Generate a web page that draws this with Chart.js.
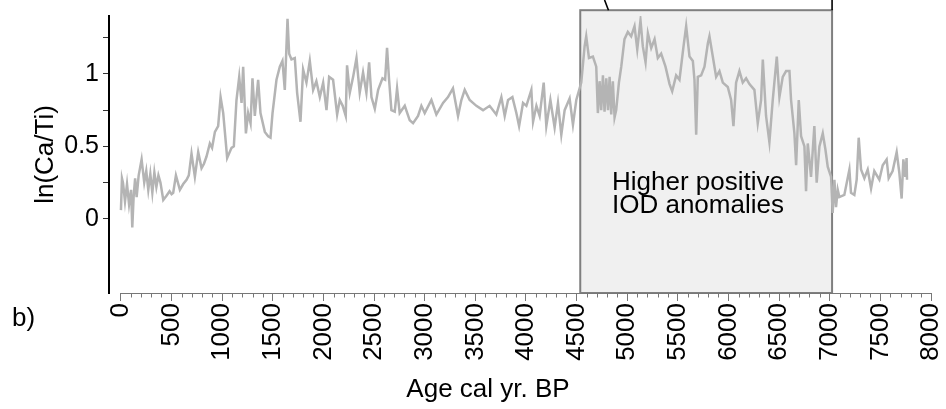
<!DOCTYPE html>
<html>
<head>
<meta charset="utf-8">
<script src="https://cdn.jsdelivr.net/npm/chart.js@4.4.0/dist/chart.umd.min.js"></script>
<style>
html, body { margin: 0; padding: 0; background: #fff; }
#wrap { width: 946px; height: 409px; }
</style>
</head>
<body>
<div id="wrap"><canvas id="myChart" width="946" height="409"></canvas></div>
<script>
// Age (cal yr BP) and ln(Ca/Ti)
const ages = [0, 10, 20, 40, 60, 80, 100, 112, 125, 140, 155, 175, 204, 230, 250, 270, 290, 310, 330, 350,
  370, 390, 418, 450, 480, 500, 516, 543, 582, 615, 648, 670, 697, 730, 763, 796, 820, 845, 878, 900,
  928, 960, 984, 1010, 1049, 1092, 1115, 1141, 1168, 1191, 1207, 1234, 1256, 1280, 1299, 1322, 1355, 1378, 1421, 1454,
  1477, 1497, 1536, 1569, 1595, 1618, 1645, 1661, 1684, 1717, 1740, 1773, 1799, 1832, 1865, 1898, 1930, 1964, 1997, 2030,
  2056, 2095, 2135, 2161, 2190, 2220, 2233, 2260, 2293, 2326, 2358, 2391, 2424, 2451, 2474, 2507, 2540, 2583, 2609, 2628,
  2648, 2671, 2704, 2727, 2753, 2803, 2852, 2885, 2934, 2967, 3000, 3066, 3115, 3181, 3230, 3279, 3329, 3362, 3395, 3444,
  3510, 3576, 3641, 3707, 3757, 3790, 3823, 3866, 3905, 3932, 3971, 4004, 4053, 4070, 4103, 4135, 4175, 4201, 4241, 4283,
  4316, 4349, 4382, 4431, 4464, 4497, 4546, 4579, 4595, 4622, 4661, 4694, 4710, 4727, 4743, 4760, 4776, 4793, 4810, 4826,
  4842, 4858, 4875, 4891, 4918, 4941, 4973, 5006, 5039, 5072, 5099, 5131, 5154, 5181, 5204, 5237, 5270, 5302, 5335, 5378,
  5418, 5444, 5483, 5516, 5556, 5582, 5615, 5648, 5664, 5681, 5697, 5730, 5763, 5796, 5812, 5845, 5878, 5911, 5944, 5993,
  6026, 6049, 6075, 6108, 6141, 6174, 6207, 6256, 6289, 6322, 6339, 6371, 6404, 6437, 6477, 6503, 6536, 6569, 6602, 6618,
  6651, 6668, 6694, 6717, 6750, 6766, 6783, 6815, 6848, 6871, 6898, 6931, 6957, 6980, 7013, 7029, 7046, 7062, 7079, 7095,
  7144, 7194, 7210, 7243, 7266, 7286, 7309, 7342, 7375, 7408, 7440, 7490, 7523, 7562, 7582, 7621, 7661, 7687, 7710, 7727,
  7746, 7759, 7763];
const lnCaTi = [0.06, 0.28, 0.25, 0.12, 0.24, 0.10, 0.20, -0.06, 0.15, 0.28, 0.15, 0.30, 0.41, 0.25, 0.33, 0.20, 0.31, 0.18, 0.32, 0.22,
  0.30, 0.25, 0.13, 0.16, 0.19, 0.17, 0.18, 0.30, 0.20, 0.24, 0.27, 0.30, 0.45, 0.29, 0.46, 0.35, 0.38, 0.43, 0.52, 0.49,
  0.60, 0.64, 0.84, 0.73, 0.42, 0.49, 0.50, 0.82, 0.98, 0.80, 1.05, 0.59, 0.73, 0.66, 0.97, 0.71, 0.96, 0.73, 0.60, 0.57,
  0.56, 0.73, 0.96, 1.05, 1.09, 0.89, 1.38, 1.14, 1.10, 1.11, 0.87, 0.67, 1.03, 0.94, 1.09, 0.89, 0.95, 0.84, 0.94, 0.75,
  0.98, 0.96, 0.72, 0.82, 0.78, 0.71, 1.06, 0.87, 0.98, 1.11, 0.87, 1.01, 0.87, 1.08, 0.84, 0.76, 0.89, 0.97, 0.96, 1.18,
  0.96, 0.75, 0.74, 0.90, 0.73, 0.78, 0.68, 0.66, 0.71, 0.78, 0.73, 0.82, 0.72, 0.80, 0.84, 0.90, 0.71, 0.82, 0.89, 0.82,
  0.78, 0.75, 0.78, 0.72, 0.84, 0.71, 0.82, 0.84, 0.73, 0.64, 0.80, 0.78, 0.89, 0.67, 0.78, 0.71, 0.94, 0.64, 0.82, 0.63,
  0.80, 0.58, 0.75, 0.83, 0.65, 0.82, 0.94, 1.19, 1.26, 1.11, 1.12, 1.05, 0.73, 0.95, 0.75, 0.99, 0.74, 0.97, 0.75, 0.98,
  0.72, 0.95, 0.70, 0.75, 0.94, 1.05, 1.24, 1.29, 1.26, 1.33, 1.17, 1.37, 1.19, 1.08, 1.28, 1.18, 1.24, 1.11, 1.14, 1.05,
  0.93, 0.88, 0.99, 0.96, 1.19, 1.33, 1.12, 1.09, 0.96, 0.58, 0.98, 0.99, 1.05, 1.21, 1.26, 1.12, 0.98, 1.02, 0.94, 0.91,
  0.82, 0.64, 0.94, 1.02, 0.94, 0.97, 0.93, 0.89, 0.66, 0.82, 1.10, 0.71, 0.53, 0.82, 1.12, 0.84, 0.98, 1.02, 1.02, 0.82,
  0.59, 0.37, 0.82, 0.57, 0.50, 0.19, 0.52, 0.29, 0.64, 0.25, 0.50, 0.59, 0.48, 0.36, 0.29, 0.04, 0.27, 0.08, 0.20, 0.15,
  0.165, 0.34, 0.18, 0.165, 0.27, 0.56, 0.34, 0.28, 0.34, 0.21, 0.33, 0.27, 0.37, 0.41, 0.28, 0.33, 0.46, 0.32, 0.14, 0.41,
  0.29, 0.42, 0.27];

const xTickValues = [0, 500, 1000, 1500, 2000, 2500, 3000, 3500, 4000, 4500, 5000, 5500, 6000, 6500, 7000, 7500, 8000];
const yTickValues = [0, 0.25, 0.5, 0.75, 1, 1.25];
const yTickLabels = ['0', '', '0.5', '', '1', ''];

// shaded interval and its label
const iodRange = [4536, 7023];
const iodTop = 1.44;
const iodLabel = ['Higher positive', 'IOD anomalies'];
// connector lines to the panel above (age at box top, age at image top)
const connectors = [[4815, 4776], [7023, 7023]];

const FONT = "'Liberation Sans', Arial, sans-serif";
Chart.defaults.font.family = FONT;
Chart.defaults.color = '#000';

const noPad = s => { s.paddingLeft = 0; s.paddingRight = 0; s.paddingTop = 0; s.paddingBottom = 0; };

const overlay = {
    id: 'overlay',
    beforeDatasetsDraw(chart) {
        const {ctx, chartArea, scales: {x, y}} = chart;
        const l = x.getPixelForValue(iodRange[0]);
        const r = x.getPixelForValue(iodRange[1]);
        const t = y.getPixelForValue(iodTop);
        const b = chartArea.bottom;
        ctx.save();
        ctx.fillStyle = '#f0f0f0';
        ctx.fillRect(l, t, r - l, b - t);
        ctx.strokeStyle = '#7f7f7f';
        ctx.lineWidth = 2;
        ctx.strokeRect(l, t, r - l, b - t);
        ctx.strokeStyle = '#000';
        ctx.lineWidth = 1.6;
        connectors.forEach(c => {
            ctx.beginPath();
            ctx.moveTo(x.getPixelForValue(c[0]), t);
            ctx.lineTo(x.getPixelForValue(c[1]), 0);
            ctx.stroke();
        });
        ctx.fillStyle = '#000';
        ctx.font = '26px ' + FONT;
        ctx.textAlign = 'left';
        ctx.textBaseline = 'alphabetic';
        ctx.fillText(iodLabel[0], 612, 190);
        ctx.fillText(iodLabel[1], 612, 213);
        ctx.restore();
    },
    afterDraw(chart) {
        const {ctx, chartArea, scales: {x}} = chart;
        const y0 = chartArea.bottom + 0.5;
        ctx.save();
        ctx.strokeStyle = '#777';
        ctx.lineWidth = 1.2;
        ctx.beginPath();
        ctx.moveTo(x.getPixelForValue(0), y0);
        ctx.lineTo(x.getPixelForValue(8000), y0);
        ctx.stroke();
        ctx.lineWidth = 1;
        for (let v = 100; v < 8000; v += 100) {
            if (v % 500 === 0) continue;
            const px = Math.round(x.getPixelForValue(v)) + 0.5;
            ctx.beginPath();
            ctx.moveTo(px, y0);
            ctx.lineTo(px, y0 + 4);
            ctx.stroke();
        }
        ctx.fillStyle = '#000';
        ctx.font = '26px ' + FONT;
        ctx.textAlign = 'center';
        ctx.fillText('Age cal yr. BP', 488, 397);
        ctx.textAlign = 'left';
        ctx.fillText('b)', 12, 326);
        ctx.restore();
    }
};

new Chart(document.getElementById('myChart').getContext('2d'), {
    type: 'line',
    data: {
        datasets: [{
            data: ages.map((a, i) => ({x: a, y: lnCaTi[i]})),
            borderColor: '#b4b4b4',
            borderWidth: 2.5,
            pointRadius: 0,
            tension: 0,
            fill: false
        }]
    },
    options: {
        responsive: false,
        animation: false,
        events: [],
        layout: {padding: {top: 16, right: 15, left: 0, bottom: 0}},
        plugins: {legend: {display: false}, tooltip: {enabled: false}},
        scales: {
            x: {
                type: 'linear',
                min: -118,
                max: 8000,
                afterBuildTicks: s => { s.ticks = xTickValues.map(v => ({value: v})); },
                afterFit: s => { s.height = 116; noPad(s); },
                border: {display: false},
                grid: {drawOnChartArea: false, drawTicks: true, tickLength: 8, color: '#777'},
                ticks: {
                    autoSkip: false, minRotation: 90, maxRotation: 90, padding: 2,
                    font: {size: 26}, color: '#000',
                    callback: v => String(v)
                }
            },
            y: {
                min: -0.512,
                max: 1.40,
                afterBuildTicks: s => { s.ticks = yTickValues.map(v => ({value: v})); },
                afterFit: s => { s.width = 109; noPad(s); },
                border: {display: true, color: '#000', width: 2},
                grid: {drawOnChartArea: false, drawTicks: true, tickLength: 6, color: '#333'},
                ticks: {
                    padding: 4, font: {size: 25}, color: '#000',
                    callback: v => yTickLabels[yTickValues.indexOf(v)] ?? ''
                },
                title: {display: true, text: 'ln(Ca/Ti)', font: {size: 26}, color: '#000', padding: {top: 30, bottom: 0}}
            }
        }
    },
    plugins: [overlay]
});
</script>
</body>
</html>
